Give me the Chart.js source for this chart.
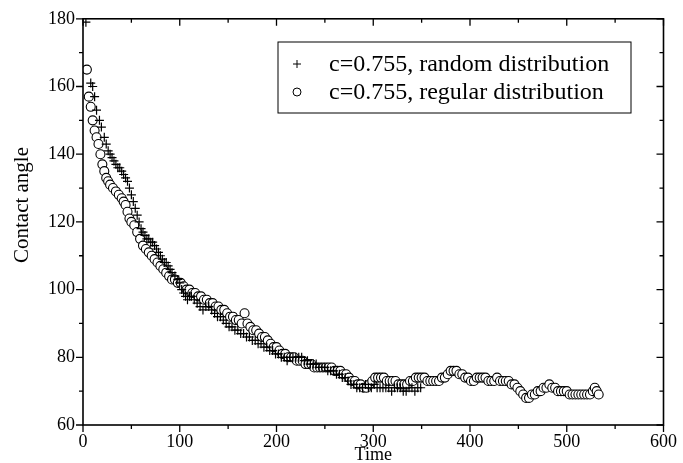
<!DOCTYPE html>
<html>
<head>
<meta charset="utf-8">
<script src="https://cdn.jsdelivr.net/npm/chart.js@4/dist/chart.umd.min.js"></script>
<style>
html, body { margin: 0; padding: 0; background: #fff; }
</style>
</head>
<body>
<canvas id="myChart" width="683" height="463"></canvas>
<script>
// c=0.755, random distribution (+)
var randomTime = [3, 8, 10, 12, 14, 17, 19, 22, 24, 26, 28, 30, 32, 34, 36, 38, 40, 42, 44, 46,
  48, 50, 52, 54, 56, 58, 60, 62, 64, 66, 68, 70, 72, 74, 76, 78, 80, 82, 84, 86,
  88, 90, 92, 95, 98, 100, 102, 104, 106, 108, 110, 112, 115, 118, 121, 124, 127, 130, 133, 136,
  139, 142, 145, 148, 151, 154, 157, 160, 163, 166, 169, 172, 175, 178, 181, 184, 187, 190, 193, 196,
  199, 202, 205, 208, 211, 214, 217, 220, 223, 226, 229, 232, 235, 238, 241, 244, 247, 250, 253, 256,
  259, 262, 265, 268, 271, 274, 277, 280, 283, 286, 289, 292, 295, 298, 301, 304, 307, 310, 313, 316,
  319, 322, 325, 328, 331, 334, 337, 340, 343, 346, 349];
var randomAngle = [179, 161, 160, 157, 153, 150, 148, 145, 143, 141, 140, 139, 138, 137, 136, 136, 135, 134, 133, 132,
  130, 128, 126, 124, 122, 120, 118, 117, 116, 115, 115, 114, 114, 113, 112, 111, 110, 109, 108, 108,
  107, 106, 105, 104, 103, 102, 100, 99, 98, 97, 98, 98, 97, 96, 95, 94, 95, 95, 94, 93,
  92, 92, 91, 90, 89, 89, 88, 88, 87, 87, 86, 86, 85, 85, 84, 84, 83, 83, 82, 82,
  81, 81, 80, 80, 79, 80, 80, 80, 80, 80, 79, 79, 78, 78, 78, 77, 77, 77, 76, 76,
  76, 75, 75, 74, 74, 73, 72, 72, 71, 71, 71, 72, 71, 71, 72, 71, 71, 71, 71, 71,
  70, 71, 71, 71, 70, 70, 71, 71, 70, 71, 71];

// c=0.755, regular distribution (o)
var regularTime = [4, 6, 8, 10, 12, 14, 16, 18, 20, 22, 24, 26, 28, 31, 34, 37, 40, 42, 44, 46,
  48, 50, 53, 56, 59, 62, 65, 68, 71, 74, 77, 80, 83, 86, 89, 92, 95, 98, 101, 104,
  107, 110, 113, 116, 119, 122, 125, 128, 131, 134, 137, 140, 143, 146, 149, 152, 155, 158, 161, 164,
  167, 170, 173, 176, 179, 182, 185, 188, 191, 194, 197, 200, 203, 206, 209, 212, 215, 218, 221, 224,
  227, 230, 233, 236, 239, 242, 245, 248, 251, 254, 257, 260, 263, 266, 269, 272, 275, 278, 281, 284,
  287, 290, 293, 296, 299, 302, 305, 308, 311, 314, 317, 320, 323, 326, 329, 332, 335, 338, 341, 344,
  347, 350, 353, 356, 359, 362, 365, 368, 371, 374, 377, 380, 383, 386, 389, 392, 395, 398, 401, 404,
  407, 410, 413, 416, 419, 422, 425, 428, 431, 434, 437, 440, 443, 446, 449, 452, 455, 458, 461, 464,
  467, 470, 473, 476, 479, 482, 485, 488, 491, 494, 497, 500, 503, 506, 509, 512, 515, 518, 521, 524,
  527, 529, 531, 533];
var regularAngle = [165, 157, 154, 150, 147, 145, 143, 140, 137, 135, 133, 132, 131, 130, 129, 128, 127, 126, 125, 123,
  121, 120, 119, 117, 115, 113, 112, 111, 110, 109, 108, 107, 106, 105, 104, 103, 103, 102, 102, 101,
  100, 100, 99, 99, 98, 98, 97, 97, 96, 96, 95, 95, 94, 94, 93, 92, 92, 91, 91, 90,
  93, 90, 89, 88, 88, 87, 86, 86, 85, 84, 83, 83, 82, 81, 81, 80, 80, 80, 79, 79,
  79, 78, 78, 78, 77, 77, 77, 77, 77, 77, 77, 76, 76, 76, 75, 75, 74, 73, 73, 72,
  72, 71, 71, 72, 73, 74, 74, 74, 74, 73, 73, 73, 73, 72, 72, 72, 72, 73, 73, 74,
  74, 74, 74, 73, 73, 73, 73, 73, 74, 74, 75, 76, 76, 76, 75, 75, 74, 74, 73, 73,
  74, 74, 74, 74, 73, 73, 73, 74, 73, 73, 73, 73, 72, 72, 71, 70, 69, 68, 68, 69,
  69, 70, 70, 71, 71, 72, 71, 71, 70, 70, 70, 70, 69, 69, 69, 69, 69, 69, 69, 69,
  70, 71, 70, 69];

var legendLabels = ['c=0.755, random distribution', 'c=0.755, regular distribution'];
var xTitle = 'Time';
var yTitle = 'Contact angle';

var serif = '"Liberation Serif", "DejaVu Serif", serif';

function toPoints(xs, ys) {
  var out = [];
  for (var i = 0; i < xs.length; i++) out.push({ x: xs[i], y: ys[i] });
  return out;
}

// frame + tick marks (outward on bottom/left, inward on top/right)
var frameTicks = {
  id: 'frameTicks',
  afterDraw: function (chart) {
    var ctx = chart.ctx, a = chart.chartArea;
    var xs = chart.scales.x, ys = chart.scales.y;
    ctx.save();
    ctx.strokeStyle = '#000';
    ctx.lineWidth = 1.6;
    ctx.strokeRect(a.left, a.top, a.right - a.left, a.bottom - a.top);
    ctx.lineWidth = 1.3;
    ctx.beginPath();
    xs.ticks.forEach(function (t) {
      var px = xs.getPixelForValue(t.value);
      var major = t.value % 100 === 0;
      ctx.moveTo(px, a.bottom); ctx.lineTo(px, a.bottom + (major ? 7 : 4));
      ctx.moveTo(px, a.top); ctx.lineTo(px, a.top + (major ? 7 : 4));
    });
    ys.ticks.forEach(function (t) {
      var py = ys.getPixelForValue(t.value);
      var major = t.value % 20 === 0;
      ctx.moveTo(a.left, py); ctx.lineTo(a.left - (major ? 7 : 4), py);
      ctx.moveTo(a.right, py); ctx.lineTo(a.right - (major ? 7 : 4), py);
    });
    ctx.stroke();

    // y axis title, sitting a little above the middle as in the original
    ctx.fillStyle = '#000';
    ctx.font = '21px ' + serif;
    ctx.textAlign = 'center';
    ctx.textBaseline = 'middle';
    ctx.translate(22, 205);
    ctx.rotate(-Math.PI / 2);
    ctx.fillText(yTitle, 0, 0);
    ctx.restore();
  }
};

// boxed legend inside the plot
var boxLegend = {
  id: 'boxLegend',
  afterDraw: function (chart) {
    var ctx = chart.ctx;
    var bx = 278, by = 42, bw = 353, bh = 71;
    ctx.save();
    ctx.fillStyle = '#fff';
    ctx.fillRect(bx, by, bw, bh);
    ctx.strokeStyle = '#000';
    ctx.lineWidth = 1;
    ctx.strokeRect(bx, by, bw, bh);
    ctx.textBaseline = 'middle';
    chart.data.datasets.forEach(function (ds, i) {
      var cy = by + 22 + i * 28;
      ctx.fillStyle = '#fff';
      ctx.strokeStyle = '#000';
      ctx.lineWidth = 1;
      Chart.helpers.drawPoint(ctx, { pointStyle: ds.pointStyle, radius: 4, borderWidth: 1 }, bx + 19, cy);
      ctx.fillStyle = '#000';
      ctx.font = '24px ' + serif;
      ctx.fillText(legendLabels[i], bx + 51, cy + 1);
    });
    ctx.restore();
  }
};

var ctx = document.getElementById('myChart').getContext('2d');
var myChart = new Chart(ctx, {
  type: 'scatter',
  data: {
    datasets: [{
      label: legendLabels[0],
      data: toPoints(randomTime, randomAngle),
      pointStyle: 'cross',
      pointRadius: 4.5,
      borderColor: '#000',
      backgroundColor: '#000',
      borderWidth: 1.2,
      order: 1
    }, {
      label: legendLabels[1],
      data: toPoints(regularTime, regularAngle),
      pointStyle: 'circle',
      pointRadius: 4.5,
      borderColor: '#000',
      backgroundColor: '#fff',
      borderWidth: 1.1,
      order: 2
    }]
  },
  options: {
    responsive: false,
    animation: false,
    devicePixelRatio: 1,
    layout: { padding: { left: 0, right: 17, top: 15, bottom: 0 } },
    plugins: { legend: { display: false }, tooltip: { enabled: false } },
    scales: {
      x: {
        type: 'linear', min: 0, max: 600,
        grid: { display: false, drawTicks: false },
        border: { display: false },
        afterFit: function (s) { s.height = 38; },
        ticks: {
          stepSize: 50, autoSkip: false, maxRotation: 0, padding: 6, color: '#000',
          font: { family: serif, size: 18 },
          callback: function (v) { return v % 100 === 0 ? v : ''; }
        },
        title: {
          display: true, text: xTitle, color: '#000',
          font: { family: serif, size: 18, lineHeight: 1 }, padding: { top: 0, bottom: -1 }
        }
      },
      y: {
        type: 'linear', min: 60, max: 180,
        grid: { display: false, drawTicks: false },
        border: { display: false },
        afterFit: function (s) { s.width = 83; },
        ticks: {
          stepSize: 10, autoSkip: false, padding: 8, color: '#000',
          font: { family: serif, size: 18 },
          callback: function (v) { return v % 20 === 0 ? v : ''; }
        },
        title: { display: false }
      }
    }
  },
  plugins: [frameTicks, boxLegend]
});
</script>
</body>
</html>
